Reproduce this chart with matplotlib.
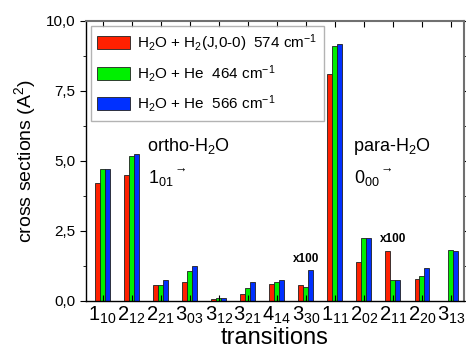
import matplotlib
matplotlib.use('Agg')
import matplotlib.pyplot as plt
import numpy as np
from matplotlib.ticker import MultipleLocator, FuncFormatter

plt.rcParams['font.family'] = ['Liberation Sans', 'DejaVu Sans']
plt.rcParams['mathtext.fontset'] = 'custom'
plt.rcParams['mathtext.rm'] = 'Liberation Sans'
plt.rcParams['mathtext.default'] = 'regular'

# transitions (J_KaKc)
transicoes = ['1_{10}', '2_{12}', '2_{21}', '3_{03}', '3_{12}', '3_{21}', '4_{14}',
              '3_{30}', '1_{11}', '2_{02}', '2_{11}', '2_{20}', '3_{13}']
h2_574 = [4.20, 4.48, 0.54, 0.67, 0.07, 0.24, 0.59, 0.54, 8.10, 1.36, 1.78, 0.76, 0.0]
he_464 = [4.72, 5.16, 0.57, 1.05, 0.09, 0.44, 0.65, 0.47, 9.10, 2.22, 0.74, 0.86, 1.79]
he_566 = [4.72, 5.23, 0.72, 1.24, 0.09, 0.65, 0.72, 1.10, 9.19, 2.22, 0.72, 1.18, 1.76]

series = [
    (h2_574, '#FF2000', r'H$_2$O + H$_2$(J,0-0)  574 cm$^{-1}$'),
    (he_464, '#00F000', r'H$_2$O + He  464 cm$^{-1}$'),
    (he_566, '#0030FF', r'H$_2$O + He  566 cm$^{-1}$'),
]

fig = plt.figure(figsize=(4.66, 3.56), dpi=100)
ax = fig.add_axes([86/466, 1 - 300.5/356, (464-86)/466, (300.5-21)/356])

x = np.arange(len(transicoes))
w = 0.17
for i, (vals, cor, lab) in enumerate(series):
    ax.bar(x + (i - 1) * w, vals, width=w, color=cor, edgecolor='#202020',
           linewidth=0.6, label=lab)

ax.set_xlim(-0.57, 12.45)
ax.set_ylim(0, 10)
ax.set_xticks(x)
ax.set_xticklabels(['$' + t + '$' for t in transicoes], fontsize=14.5)
ax.yaxis.set_major_locator(MultipleLocator(2.5))
ax.yaxis.set_minor_locator(MultipleLocator(1.25))
ax.yaxis.set_major_formatter(FuncFormatter(lambda v, p: f'{v:.1f}'.replace('.', ',')))
ax.tick_params(axis='y', which='both', direction='out', labelsize=11, right=True)
ax.tick_params(axis='y', which='major', length=4)
ax.tick_params(axis='y', which='minor', length=2.5)
ax.tick_params(axis='x', direction='in', top=True, length=4, pad=3)
for lado in ['left', 'bottom']:
    ax.spines[lado].set_linewidth(1.0)
for lado in ['top', 'right']:
    ax.spines[lado].set_color('#707070')
    ax.spines[lado].set_linewidth(1.5)

ax.set_xlabel('transitions', fontsize=17, labelpad=1)
ax.set_ylabel(r'cross sections (A$^2$)', fontsize=14, labelpad=6)

leg = ax.legend(loc='upper left', fontsize=11, frameon=True, fancybox=False,
                edgecolor='#a0a0a0', handlelength=2.1, handleheight=0.95,
                borderaxespad=0.3, labelspacing=0.6, handletextpad=0.5,
                borderpad=0.45)
leg.get_frame().set_linewidth(1.0)

# anotacoes
ax.text(1.53, 5.35, r'ortho-H$_2$O', fontsize=13)
ax.text(1.55, 4.2, r'$1_{01}$', fontsize=13)
ax.text(2.38, 4.6, r'$\rightarrow$', fontsize=9)
ax.text(8.63, 5.35, r'para-H$_2$O', fontsize=13)
ax.text(8.65, 4.2, r'$0_{00}$', fontsize=13)
ax.text(9.48, 4.6, r'$\rightarrow$', fontsize=9)
ax.text(7.0, 1.38, 'x100', fontsize=8.5, fontweight='bold', ha='center')
ax.text(10.0, 2.1, 'x100', fontsize=8.5, fontweight='bold', ha='center')

fig.savefig('out.png', dpi=100)
